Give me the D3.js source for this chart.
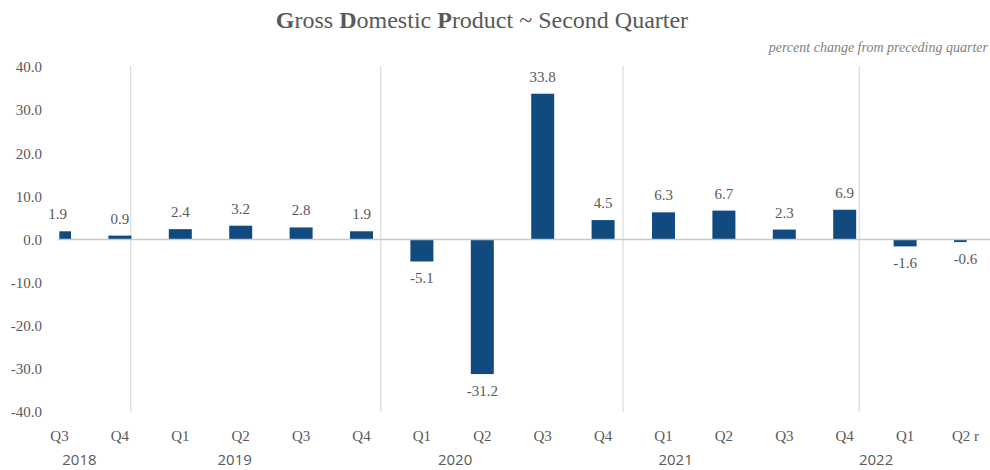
<!DOCTYPE html>
<html>
<head>
<meta charset="utf-8">
<script src="https://cdn.jsdelivr.net/npm/d3@7"></script>
<style>
  body { margin: 0; background: #fff; }
  svg { display: block; }
</style>
</head>
<body>
<svg id="canvas" width="990" height="470"></svg>
<script>
'use strict';

/* chart data */
const quarters = ['Q3', 'Q4', 'Q1', 'Q2', 'Q3', 'Q4', 'Q1', 'Q2', 'Q3', 'Q4', 'Q1', 'Q2', 'Q3', 'Q4', 'Q1', 'Q2 r'];
const gdpChange = [1.9, 0.9, 2.4, 3.2, 2.8, 1.9, -5.1, -31.2, 33.8, 4.5, 6.3, 6.7, 2.3, 6.9, -1.6, -0.6];
const years = ['2018', '2019', '2020', '2021', '2022'];
/* where the year labels and year dividers sit, in category units */
const yearLabelPos = [0.33, 2.9, 6.55, 10.2, 13.52];
const yearDividers = [1.18, 5.32, 9.33, 13.24];
const yTicks = [40, 30, 20, 10, 0, -10, -20, -30, -40];

const serif = '"Liberation Serif", "DejaVu Serif", serif';
const textGrey = '#595959';
const barBlue = '#114a7e';

/* one decimal, plain hyphen for negatives like the original */
let fmt = function(d){ return d3.format('.1f')(d).replace('\u2212', '-'); };

let svg = d3.select('svg#canvas');

/* scales: categories on ticks, first and last bar sit on the plot edges */
let x = d3.scaleLinear().domain([0, quarters.length - 1]).range([59.5, 965.5]);
let y = d3.scaleLinear().domain([-40, 40]).range([412, 67]);
let barW = 23;

/* title */
let title = svg.append('text')
  .attr('x', 482).attr('y', 28)
  .attr('text-anchor', 'middle')
  .style('font-family', serif)
  .style('font-size', '24px')
  .attr('fill', textGrey);
[['G', true], ['ross ', false], ['D', true], ['omestic ', false], ['P', true], ['roduct ~ Second Quarter', false]]
  .forEach(function(p){
    title.append('tspan').text(p[0]).style('font-weight', p[1] ? 'bold' : 'normal');
  });

/* subtitle */
svg.append('text')
  .attr('x', 988).attr('y', 52)
  .attr('text-anchor', 'end')
  .style('font-family', serif)
  .style('font-style', 'italic')
  .style('font-size', '14px')
  .attr('fill', '#7f7f7f')
  .text('percent change from preceding quarter');

/* y axis labels, no line */
let yAxis = d3.axisLeft(y).tickValues(yTicks).tickFormat(fmt).tickSize(0).tickPadding(0);
svg.append('g')
  .attr('transform', 'translate(42,0)')
  .call(yAxis)
  .call(function(g){ g.select('.domain').remove(); })
  .selectAll('text')
    .style('font-family', serif)
    .style('font-size', '15px')
    .attr('fill', textGrey);

/* year dividers */
svg.append('g').selectAll('line')
  .data(yearDividers)
  .enter().append('line')
    .attr('x1', function(d){ return x(d); })
    .attr('x2', function(d){ return x(d); })
    .attr('y1', y(40) - 1)
    .attr('y2', y(-40))
    .attr('stroke', '#d4d4d4')
    .attr('stroke-width', 1);

/* clip the bars to the plot area */
svg.append('clipPath').attr('id', 'plot-clip')
  .append('rect')
    .attr('x', 59.3).attr('y', 0)
    .attr('width', 966.7 - 59.3).attr('height', 470);

svg.append('g')
  .attr('clip-path', 'url(#plot-clip)')
  .selectAll('rect')
  .data(gdpChange)
  .enter().append('rect')
    .attr('x', function(d, i){ return x(i) - barW / 2; })
    .attr('y', function(d){ return y(Math.max(0, d)); })
    .attr('width', barW)
    .attr('height', function(d){ return Math.abs(y(d) - y(0)); })
    .attr('fill', barBlue);

/* zero line */
svg.append('line')
  .attr('x1', 58).attr('x2', 990)
  .attr('y1', y(0)).attr('y2', y(0))
  .attr('stroke', '#c9c9c9')
  .attr('stroke-width', 1.5);

/* data labels */
svg.append('g').selectAll('text')
  .data(gdpChange)
  .enter().append('text')
    .attr('x', function(d, i){ return x(i) - (i === 0 ? 2 : 0); })
    .attr('y', function(d){ return d >= 0 ? y(d) - 12 : y(d) + 22; })
    .attr('text-anchor', 'middle')
    .style('font-family', serif)
    .style('font-size', '15px')
    .attr('fill', textGrey)
    .text(fmt);

/* quarter labels */
svg.append('g').selectAll('text')
  .data(quarters)
  .enter().append('text')
    .attr('x', function(d, i){ return x(i); })
    .attr('y', 441)
    .attr('text-anchor', 'middle')
    .style('font-family', serif)
    .style('font-size', '15px')
    .attr('fill', textGrey)
    .text(function(d){ return d; });

/* year labels */
svg.append('g').selectAll('text')
  .data(years)
  .enter().append('text')
    .attr('x', function(d, i){ return x(yearLabelPos[i]); })
    .attr('y', 465)
    .attr('text-anchor', 'middle')
    .style('font-family', '"Open Sans", "Liberation Sans", sans-serif')
    .style('font-size', '15px')
    .attr('fill', textGrey)
    .text(function(d){ return d; });
</script>
</body>
</html>
